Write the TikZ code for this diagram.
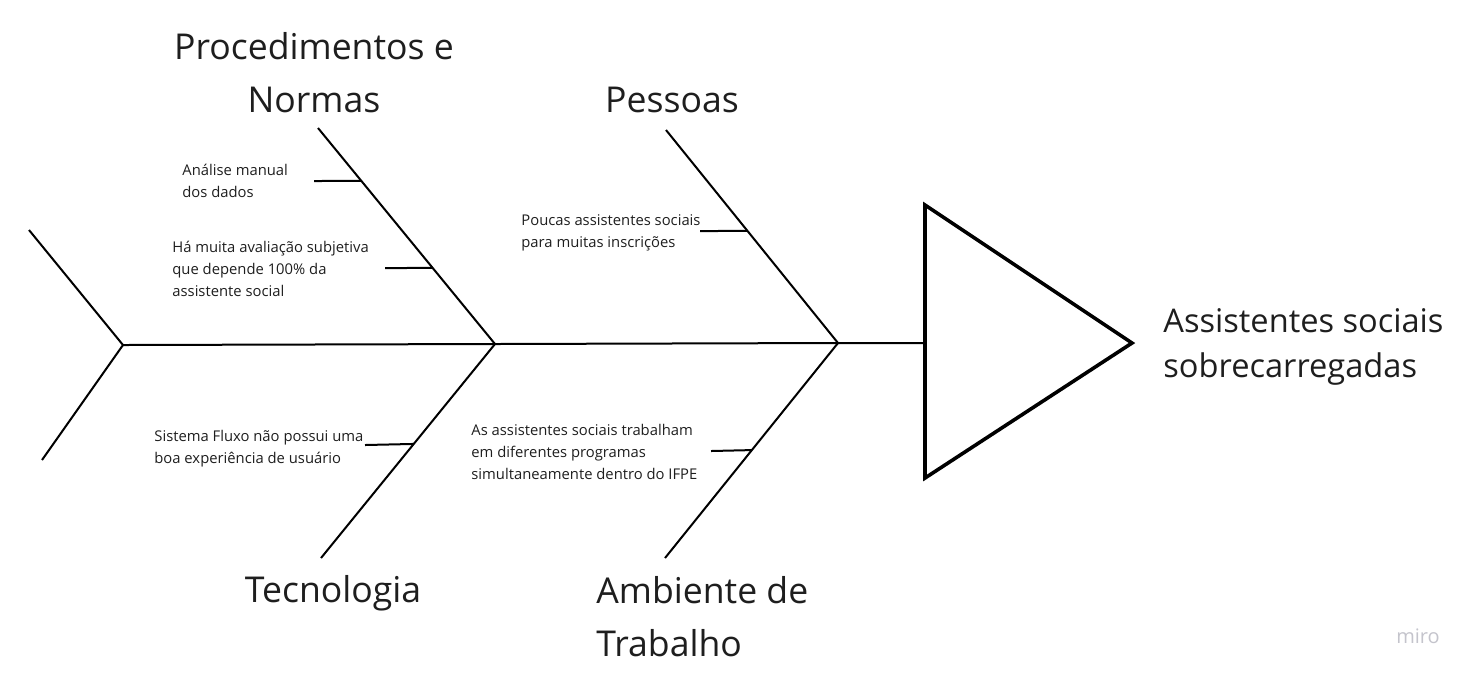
\documentclass[tikz,border=0pt]{standalone}
\usepackage{fontspec}
\setmainfont{Open Sans}
\usetikzlibrary{calc}
\definecolor{mirogray}{RGB}{196,196,204}
\definecolor{ink}{RGB}{30,30,30}
\tikzset{
  bone/.style={line width=1pt},
  cat/.style={inner sep=0pt, text=ink, font=\fontsize{17.8}{26.5}\selectfont},
  cause/.style={inner sep=0pt, text=ink, anchor=west, align=left, font=\fontsize{7.4}{11}\selectfont},
}

\begin{document}
\begin{tikzpicture}[x=0.5pt,y=-0.5pt]
\useasboundingbox (0,0) rectangle (1475,677);

\coordinate (tt) at (29,230);
\coordinate (tb) at (42,460);
\coordinate (tail) at (123,345);
\coordinate (j1) at (495,344);
\coordinate (j2) at (838,343);
\coordinate (head) at (925,343);
\coordinate (b1) at (318,128);
\coordinate (b2) at (666,130);
\coordinate (b3) at (321,558);
\coordinate (b4) at (665,558);

\node[cat, align=center] (proc) at (314,73) {Procedimentos e\\Normas};
\node[cat] (pess) at (672,100) {Pessoas};
\node[cat] (tec) at (333,593) {Tecnologia};
\node[cat, anchor=west, align=left] (amb) at (596,617) {Ambiente de\\Trabalho};
\node[inner sep=0pt, text=ink, anchor=west, align=left, font=\fontsize{16.3}{22.5}\selectfont] (efeito) at (1163,347) {Assistentes sociais\\sobrecarregadas};

\node[cause] (c1) at (182,181) {Análise manual\\dos dados};
\node[cause] (c2) at (172,269) {Há muita avaliação subjetiva\\que depende 100\% da\\assistente social};
\node[cause] (c3) at (521,233) {Poucas assistentes sociais\\para muitas inscrições};
\node[cause] (c4) at (154,449) {Sistema Fluxo não possui uma\\boa experiência de usuário};
\node[cause] (c5) at (471,452) {As assistentes sociais trabalham\\em diferentes programas\\simultaneamente dentro do IFPE};

\node[text=mirogray, font=\fontsize{10}{10}\selectfont] (miro) at (1418,636) {miro};

% espinha
\draw[bone] (tt) -- (tail) -- (tb);
\draw[bone] (tail) -- (j1) -- (j2) -- (head);
\draw[line width=1.8pt, line join=miter] (925,205) -- (1132,343) -- (925,478) -- cycle;

% categorias
\draw[bone] (b1) -- (j1);
\draw[bone] (b2) -- (j2);
\draw[bone] (b3) -- (j1);
\draw[bone] (b4) -- (j2);

% causas
\draw[bone] (314,181) -- ($(b1)!0.245!(j1)$);
\draw[bone] (385,268) -- ($(b1)!0.648!(j1)$);
\draw[bone] (700,231) -- ($(b2)!0.474!(j2)$);
\draw[bone] (365,445) -- ($(j1)!0.467!(b3)$);
\draw[bone] (711,451) -- ($(j2)!0.498!(b4)$);
\end{tikzpicture}
\end{document}
